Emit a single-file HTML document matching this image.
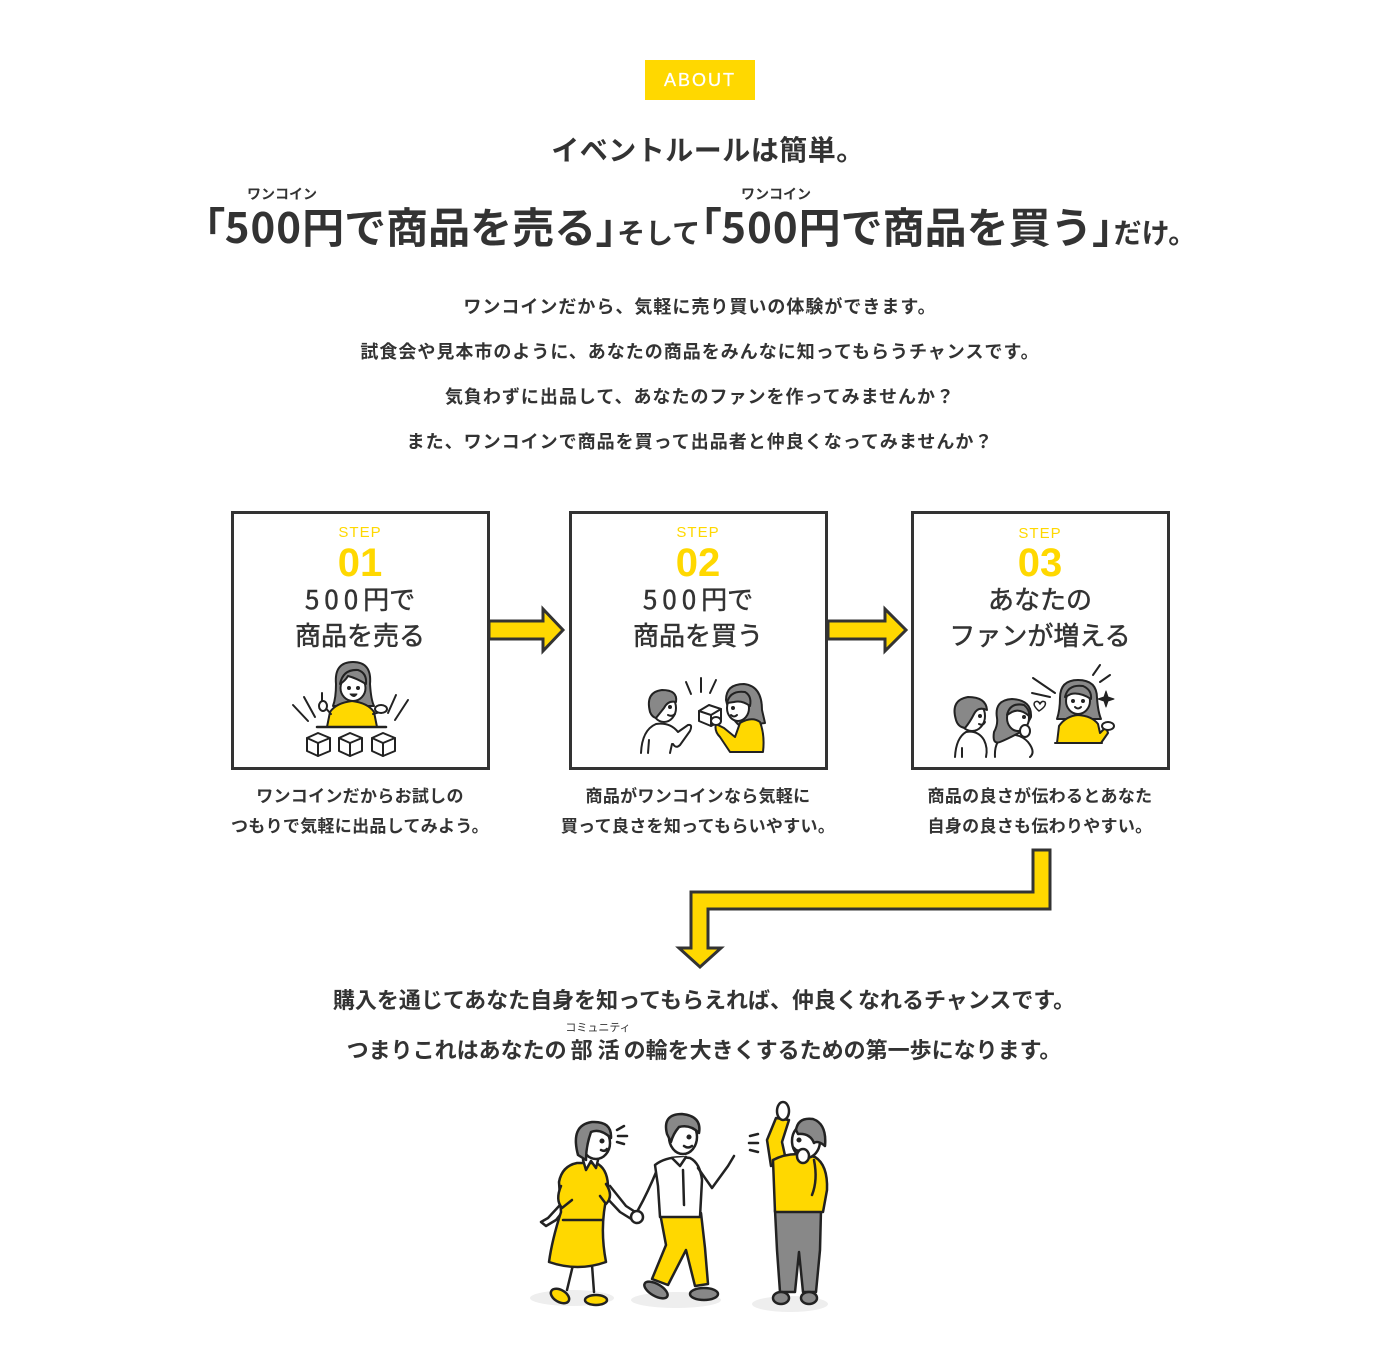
<!DOCTYPE html>
<html lang="ja">
<head>
<meta charset="utf-8">
<style>
  html, body { margin:0; padding:0; background:#fff; }
  body { width:1400px; height:1370px; position:relative; overflow:hidden; color:#333;
         font-family:"Noto Sans CJK JP","Liberation Sans",sans-serif; }
  .t { position:absolute; white-space:nowrap; text-align:center; }
  .jp { font-family:"Noto Sans CJK JP","Liberation Sans",sans-serif; }
  .lat { font-family:"Liberation Sans","DejaVu Sans",sans-serif; }
  .med { -webkit-text-stroke:0.5px #333; }
  svg { position:absolute; left:0; top:0; }
</style>
</head>
<body>

<svg width="1400" height="1370" viewBox="0 0 1400 1370" xmlns="http://www.w3.org/2000/svg">
  <rect x="645" y="60" width="110" height="40" fill="#FFD800"/>

  <g fill="none" stroke="#333" stroke-width="3">
    <rect x="232.5" y="512.5" width="256" height="256"/>
    <rect x="570.5" y="512.5" width="256" height="256"/>
    <rect x="912.5" y="512.5" width="256" height="256"/>
  </g>

  <g fill="#FFD800" stroke="#333" stroke-width="3" stroke-linejoin="miter">
    <polygon points="489,621 543,621 543,609 563,630 543,651 543,639 489,639"/>
    <polygon points="828,621 885,621 885,609 906,630 885,651 885,639 828,639"/>
    <polygon points="1033,850 1050,850 1050,909 708,909 708,948 721,948 700,967 679,948 691,948 691,892 1033,892"/>
  </g>

  <!-- STEP 1 illustration -->
  <g stroke="#222" stroke-width="2" stroke-linecap="round" stroke-linejoin="round">
    <line x1="293" y1="705" x2="308" y2="721"/>
    <line x1="304" y1="697" x2="315" y2="717"/>
    <line x1="396" y1="695" x2="388" y2="713"/>
    <line x1="408" y1="700" x2="395" y2="720"/>
    <path d="M336,684 Q334,662 353,662 Q372,662 370,684 Q371,700 374,706 L333,706 Q336,698 336,684 Z" fill="#888"/>
    <path d="M327,727 L330,712 Q336,703 352,701 Q368,703 374,712 L377,727 Z" fill="#FFD800"/>
    <ellipse cx="353" cy="688" rx="12.5" ry="13" fill="#fff"/>
    <path d="M340,684 Q343,669 358,670 Q367,673 366,684 Q356,678 348,676 Q345,681 340,684 Z" fill="#888"/>
    <circle cx="349" cy="688" r="1" fill="#222"/>
    <circle cx="358" cy="688" r="1" fill="#222"/>
    <path d="M350,694 Q354,699 357,694 Z" fill="#222" stroke-width="1"/>
    <path d="M331,714 L322,704 L322,695" fill="none"/>
    <ellipse cx="323" cy="706" rx="4" ry="5" fill="#fff"/>
    <line x1="322" y1="701" x2="322" y2="693"/>
    <path d="M373,714 L380,712" fill="none"/>
    <ellipse cx="381" cy="709" rx="6" ry="4" fill="#fff"/>
    <line x1="317" y1="727" x2="386" y2="727" stroke-width="2.5"/>
    <g fill="#fff">
      <path d="M307,738 L318,733 L330,738 L330,751 L318,756 L307,751 Z"/>
      <path d="M307,738 L318,743 L330,738 M318,743 L318,756" fill="none"/>
      <path d="M339,738 L350,733 L362,738 L362,751 L350,756 L339,751 Z"/>
      <path d="M339,738 L350,743 L362,738 M350,743 L350,756" fill="none"/>
      <path d="M372,738 L383,733 L395,738 L395,751 L383,756 L372,751 Z"/>
      <path d="M372,738 L383,743 L395,738 M383,743 L383,756" fill="none"/>
    </g>
  </g>

  <!-- STEP 2 illustration -->
  <g stroke="#222" stroke-width="2" stroke-linecap="round" stroke-linejoin="round">
    <line x1="686" y1="682" x2="691" y2="694"/>
    <line x1="701" y1="678" x2="701" y2="692"/>
    <line x1="716" y1="680" x2="710" y2="693"/>
    <path d="M641,753 Q642,730 656,724 Q670,722 678,732 L688,725 Q693,724 690,731 L680,745 Q676,749 673,744" fill="#fff"/>
    <line x1="649" y1="740" x2="648" y2="753"/>
    <line x1="672" y1="744" x2="670" y2="753"/>
    <ellipse cx="664" cy="708" rx="12" ry="14" fill="#fff"/>
    <path d="M650,712 Q645,692 662,690 Q678,690 676,702 Q668,700 664,708 Q660,713 656,718 Q652,717 650,712 Z" fill="#888"/>
    <circle cx="670" cy="707" r="1" fill="#222"/>
    <path d="M668,715 Q672,717 675,714" fill="none"/>
    <path d="M699,711 L709,705 L721,709 L721,721 L711,726 L699,721 Z" fill="#fff"/>
    <path d="M699,711 L711,715 L721,709 M711,715 L711,726" fill="none"/>
    <path d="M726,700 Q726,684 744,684 Q762,686 762,710 L765,723 L740,726 Q730,718 726,700 Z" fill="#888"/>
    <path d="M740,723 Q752,716 760,722 Q765,735 763,752 L730,752 L720,737 Q714,731 716,724 L724,728 L735,737 Z" fill="#FFD800"/>
    <ellipse cx="738" cy="708" rx="11" ry="13" fill="#fff"/>
    <path d="M727,703 Q730,690 745,692 Q752,696 750,706 Q742,700 734,702 Z" fill="#888"/>
    <circle cx="733" cy="708" r="1" fill="#222"/>
    <path d="M731,715 Q734,718 737,715" fill="none"/>
    <ellipse cx="716" cy="721" rx="5" ry="4" fill="#fff"/>
  </g>

  <!-- STEP 3 illustration -->
  <g stroke="#222" stroke-width="2" stroke-linecap="round" stroke-linejoin="round">
    <line x1="1033" y1="678" x2="1055" y2="693"/>
    <line x1="1032" y1="693" x2="1050" y2="697"/>
    <line x1="1093" y1="675" x2="1100" y2="665"/>
    <line x1="1100" y1="682" x2="1110" y2="675"/>
    <path d="M1106,691 L1108,697 L1114,699 L1108,701 L1106,707 L1104,701 L1098,699 L1104,697 Z" fill="#222" stroke-width="1"/>
    <path d="M1039,711 Q1032,705 1035,702 Q1038,700 1040,704 Q1042,700 1045,702 Q1047,706 1039,711 Z" fill="#fff" stroke-width="1.5"/>
    <path d="M955,757 Q956,738 966,732 Q978,730 984,740 Q988,748 986,757" fill="#fff"/>
    <line x1="962" y1="748" x2="962" y2="757"/>
    <ellipse cx="972" cy="716" rx="13" ry="15" fill="#fff"/>
    <path d="M956,720 Q950,700 968,697 Q986,697 987,710 Q978,706 974,714 Q970,722 965,728 Q958,727 956,720 Z" fill="#888"/>
    <circle cx="980" cy="716" r="1" fill="#222"/>
    <path d="M979,724 Q983,726 985,722" fill="none"/>
    <path d="M995,757 Q994,740 1006,735 Q1020,733 1028,742 Q1036,752 1030,757" fill="#fff"/>
    <path d="M997,718 Q994,700 1012,699 Q1032,700 1031,717 L1024,730 Q1010,738 1000,742 Q992,745 994,732 Q998,725 997,718 Z" fill="#888"/>
    <ellipse cx="1018" cy="718" rx="11" ry="13" fill="#fff"/>
    <path d="M1007,715 Q1010,702 1024,705 Q1030,710 1029,716 Q1020,708 1012,712 Z" fill="#888"/>
    <circle cx="1024" cy="717" r="1" fill="#222"/>
    <ellipse cx="1025" cy="731" rx="5" ry="6" fill="#fff"/>
    <path d="M1060,698 Q1060,680 1078,680 Q1097,680 1097,698 Q1098,712 1101,719 L1057,719 Q1060,710 1060,698 Z" fill="#888"/>
    <path d="M1057,743 L1059,726 Q1066,716 1078,715 Q1092,716 1098,724 L1100,733 L1106,727 L1108,733 L1101,743 Z" fill="#FFD800"/>
    <ellipse cx="1078" cy="701" rx="12" ry="13" fill="#fff"/>
    <path d="M1065,697 Q1068,684 1083,686 Q1092,690 1091,699 Q1080,692 1071,694 Z" fill="#888"/>
    <circle cx="1073" cy="701" r="1" fill="#222"/>
    <circle cx="1083" cy="701" r="1" fill="#222"/>
    <path d="M1075,707 Q1078,710 1081,707" fill="none"/>
    <ellipse cx="1108" cy="726" rx="6" ry="4" fill="#fff"/>
    <line x1="1055" y1="743" x2="1102" y2="743"/>
  </g>

  <!-- bottom illustration -->
  <g fill="#eeeeee">
    <ellipse cx="572" cy="1298" rx="42" ry="8"/>
    <ellipse cx="676" cy="1300" rx="45" ry="8"/>
    <ellipse cx="790" cy="1304" rx="38" ry="8"/>
  </g>
  <g stroke="#222" stroke-width="2.5" stroke-linecap="round" stroke-linejoin="round">
    <line x1="617" y1="1130" x2="624" y2="1126"/>
    <line x1="618" y1="1136" x2="627" y2="1136"/>
    <line x1="617" y1="1142" x2="624" y2="1144"/>
    <line x1="750" y1="1136" x2="758" y2="1134"/>
    <line x1="749" y1="1143" x2="758" y2="1143"/>
    <line x1="750" y1="1150" x2="758" y2="1152"/>

    <path d="M573,1265 L567,1290 M592,1265 L594,1292" fill="none"/>
    <ellipse cx="560" cy="1296" rx="10" ry="6" fill="#FFD800" transform="rotate(30 560 1296)"/>
    <ellipse cx="596" cy="1300" rx="11" ry="5" fill="#FFD800"/>
    <path d="M560,1205 L548,1218 L541,1222 L546,1226 L556,1220 L568,1205" fill="#fff"/>
    <path d="M604,1195 L620,1212 L636,1222 L640,1215 L626,1206 L610,1186" fill="#fff"/>
    <path d="M577,1163 Q562,1166 559,1182 L561,1212 Q552,1240 549,1262 Q578,1272 606,1262 Q601,1236 604,1212 L608,1185 Q607,1168 596,1163 Z" fill="#FFD800"/>
    <path d="M561,1186 Q555,1200 562,1208 L572,1200" fill="#FFD800"/>
    <path d="M606,1184 Q614,1196 606,1204 L600,1196" fill="#FFD800"/>
    <line x1="563" y1="1220" x2="603" y2="1220"/>
    <path d="M583,1160 L586,1170 L591,1161 L596,1168 L598,1160" fill="#fff"/>
    <ellipse cx="596" cy="1143" rx="14" ry="16" fill="#fff"/>
    <path d="M578,1155 Q570,1125 592,1122 Q612,1121 611,1138 Q600,1128 591,1132 Q586,1146 586,1160 Z" fill="#888"/>
    <circle cx="602" cy="1141" r="1.3" fill="#222"/>
    <path d="M601,1150 Q605,1152 607,1149" fill="none"/>

    <path d="M660,1213 L701,1213 L705,1248 L708,1284 L695,1286 L686,1250 L668,1285 L652,1279 L666,1245 Z" fill="#FFD800"/>
    <ellipse cx="656" cy="1290" rx="13" ry="6" fill="#888" transform="rotate(30 656 1290)"/>
    <ellipse cx="704" cy="1294" rx="14" ry="6" fill="#888"/>
    <path d="M657,1170 Q648,1192 638,1210" fill="none"/>
    <circle cx="637" cy="1217" r="6" fill="#fff"/>
    <path d="M655,1165 Q668,1155 690,1158 Q700,1163 702,1180 L700,1217 L660,1217 L658,1186 Z" fill="#fff"/>
    <line x1="683" y1="1170" x2="684" y2="1205"/>
    <path d="M698,1168 L712,1188 L728,1166 L734,1156" fill="none"/>
    <path d="M672,1158 L680,1166 L686,1157" fill="#fff"/>
    <ellipse cx="683" cy="1137" rx="14" ry="17" fill="#fff"/>
    <path d="M667,1134 Q662,1114 682,1114 Q702,1116 699,1133 Q690,1124 679,1127 Q673,1134 671,1142 Z" fill="#888"/>
    <circle cx="689" cy="1137" r="1.3" fill="#222"/>
    <path d="M684,1146 Q688,1149 692,1146" fill="none"/>

    <path d="M775,1210 L821,1210 L820,1250 L816,1292 L803,1292 L799,1252 L795,1292 L780,1292 L777,1250 Z" fill="#888"/>
    <ellipse cx="781" cy="1298" rx="8" ry="6" fill="#888"/>
    <ellipse cx="809" cy="1298" rx="8" ry="6" fill="#888"/>
    <path d="M771,1166 L767,1140 L776,1118 L789,1120 L782,1142 L786,1160 Z" fill="#FFD800"/>
    <path d="M773,1160 Q792,1150 815,1157 Q828,1165 827,1190 L823,1212 L775,1212 Z" fill="#FFD800"/>
    <path d="M814,1160 Q818,1180 812,1195" fill="none"/>
    <ellipse cx="783" cy="1111" rx="6" ry="9" fill="#fff"/>
    <ellipse cx="806" cy="1141" rx="14" ry="17" fill="#fff"/>
    <path d="M796,1130 Q798,1117 813,1119 Q827,1124 825,1146 Q818,1140 814,1143 Q810,1133 798,1134 Z" fill="#888"/>
    <circle cx="799" cy="1140" r="1.3" fill="#222"/>
    <path d="M794,1148 Q797,1152 801,1150" fill="none"/>
    <ellipse cx="803" cy="1156" rx="6" ry="7" fill="#fff"/>
  </g>
</svg>

<div class="t lat" style="left:645px;top:70px;width:110px;font-size:18px;line-height:20px;color:#fff;letter-spacing:2px;-webkit-text-stroke:0.3px #fff;">ABOUT</div>

<div class="t jp" style="left:8px;top:129px;width:1400px;font-size:28px;line-height:40px;font-weight:bold;letter-spacing:0.5px;color:#333;">イベントルールは簡単。</div>

<div class="t jp" style="left:232px;top:184px;width:100px;font-size:14px;line-height:20px;font-weight:bold;color:#333;">ワンコイン</div>
<div class="t jp" style="left:726px;top:184px;width:100px;font-size:14px;line-height:20px;font-weight:bold;color:#333;">ワンコイン</div>

<div class="t jp" style="left:0;top:196px;width:1400px;font-size:42px;line-height:60px;font-weight:bold;color:#333;"><span style="font-feature-settings:'palt';">「</span><span style="letter-spacing:1px;">500</span>円で商品を売る<span style="font-feature-settings:'palt';">」</span><span style="font-size:28px;">そして</span><span style="font-feature-settings:'palt';">「</span><span style="letter-spacing:1px;">500</span>円で商品を買う<span style="font-feature-settings:'palt';">」</span><span style="font-size:28px;">だけ。</span></div>

<div class="t jp" style="left:0;top:284px;width:1400px;font-size:18px;line-height:45px;font-weight:bold;letter-spacing:1px;color:#333;">ワンコインだから、気軽に売り買いの体験ができます。<br>試食会や見本市のように、あなたの商品をみんなに知ってもらうチャンスです。<br>気負わずに出品して、あなたのファンを作ってみませんか？<br>また、ワンコインで商品を買って出品者と仲良くなってみませんか？</div>

<div class="t lat" style="left:260px;top:523px;width:200px;font-size:15px;line-height:20px;color:#FFD800;letter-spacing:1px;">STEP</div>
<div class="t lat" style="left:260px;top:541px;width:200px;font-size:40px;line-height:44px;color:#FFD800;font-weight:bold;">01</div>
<div class="t jp med" style="left:230px;top:581px;width:260px;font-size:26px;line-height:36px;color:#333;"><span style="letter-spacing:5px;">500</span>円で<br>商品を売る</div>
<div class="t jp" style="left:200px;top:780px;width:320px;font-size:17px;line-height:30px;font-weight:bold;letter-spacing:0.3px;color:#333;">ワンコインだからお試しの<br>つもりで気軽に出品してみよう。</div>

<div class="t lat" style="left:598px;top:523px;width:200px;font-size:15px;line-height:20px;color:#FFD800;letter-spacing:1px;">STEP</div>
<div class="t lat" style="left:598px;top:541px;width:200px;font-size:40px;line-height:44px;color:#FFD800;font-weight:bold;">02</div>
<div class="t jp med" style="left:568px;top:581px;width:260px;font-size:26px;line-height:36px;color:#333;"><span style="letter-spacing:5px;">500</span>円で<br>商品を買う</div>
<div class="t jp" style="left:538px;top:780px;width:320px;font-size:17px;line-height:30px;font-weight:bold;letter-spacing:0.3px;color:#333;">商品がワンコインなら気軽に<br>買って良さを知ってもらいやすい。</div>

<div class="t lat" style="left:940px;top:524px;width:200px;font-size:15px;line-height:20px;color:#FFD800;letter-spacing:1px;">STEP</div>
<div class="t lat" style="left:940px;top:541px;width:200px;font-size:40px;line-height:44px;color:#FFD800;font-weight:bold;">03</div>
<div class="t jp med" style="left:910px;top:581px;width:260px;font-size:26px;line-height:36px;color:#333;">あなたの<br>ファンが増える</div>
<div class="t jp" style="left:880px;top:780px;width:320px;font-size:17px;line-height:30px;font-weight:bold;letter-spacing:0.3px;color:#333;">商品の良さが伝わるとあなた<br>自身の良さも伝わりやすい。</div>

<div class="t jp" style="left:4px;top:974px;width:1400px;font-size:22px;line-height:50px;font-weight:bold;color:#333;">購入を通じてあなた自身を知ってもらえれば、仲良くなれるチャンスです。<br>つまりこれはあなたの<span style="padding-left:4px;letter-spacing:5px;">部</span><span style="padding-right:4px;">活</span>の輪を大きくするための第一歩になります。</div>
<div class="t jp" style="left:548px;top:1019px;width:100px;font-size:11px;line-height:16px;color:#333;">コミュニティ</div>

</body>
</html>
